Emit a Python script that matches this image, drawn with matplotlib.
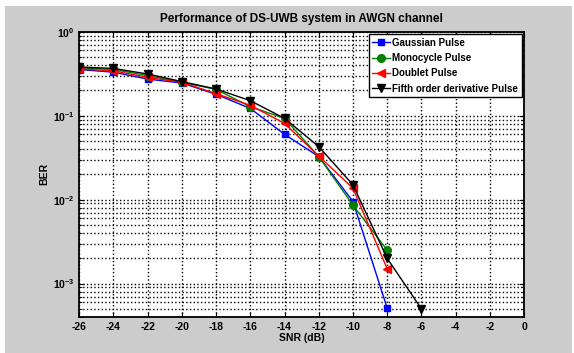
import numpy as np
import matplotlib.pyplot as plt
from matplotlib.patches import Rectangle

# SNR values (dB) and BER for each pulse shape
snr = [-26, -24, -22, -20, -18, -16, -14, -12, -10, -8]
snr_fifth = [-26, -24, -22, -20, -18, -16, -14, -12, -10, -8, -6]

ber_gaussian = [0.355, 0.33, 0.273, 0.245, 0.18, 0.122, 0.060, 0.0326, 0.0095, 0.00051]
ber_monocycle = [0.37, 0.356, 0.30, 0.25, 0.206, 0.128, 0.093, 0.0326, 0.0086, 0.0025]
ber_doublet = [0.36, 0.343, 0.286, 0.25, 0.183, 0.133, 0.081, 0.033, 0.0137, 0.0015]
ber_fifth = [0.38, 0.366, 0.314, 0.255, 0.208, 0.151, 0.093, 0.0428, 0.015, 0.002, 0.0005]

x_ticks = np.arange(-26, 1, 2)

plt.rcParams['font.family'] = ['Liberation Sans', 'DejaVu Sans']
plt.rcParams['font.weight'] = 'bold'

fig = plt.figure(figsize=(5.74, 3.53), dpi=100, facecolor='white')
# grey MATLAB-style figure background
fig.patches.append(Rectangle((5 / 574, 0), 567 / 574, 347 / 353,
                             transform=fig.transFigure, facecolor='#cccccc',
                             edgecolor='none', zorder=-1))

ax = fig.add_axes([0.138, 0.102, 0.775, 0.808])
ax.set_facecolor('white')

ax.semilogy(snr, ber_gaussian, '-s', color='blue', lw=1, ms=5, label='Gaussian Pulse')
ax.semilogy(snr, ber_monocycle, '-o', color='green', lw=1, ms=5.5, label='Monocycle Pulse')
ax.semilogy(snr, ber_doublet, '-<', color='red', lw=1, ms=5.5, label='Doublet Pulse')
ax.semilogy(snr_fifth, ber_fifth, '-v', color='black', lw=1, ms=5.5,
            label='Fifth order derivative Pulse')

ax.set_xlim(-26, 0)
ax.set_ylim(4e-4, 1)
ax.set_xticks(x_ticks)
ax.set_xticklabels([str(v) for v in x_ticks])

ax.grid(True, which='both', linestyle=':', color='black', linewidth=1.0)
ax.tick_params(which='both', direction='in', top=True, right=True, labelsize=7.5)
for lab in ax.get_xticklabels() + ax.get_yticklabels():
    lab.set_fontweight('bold')
for s in ax.spines.values():
    s.set_linewidth(1.3)

ax.set_title('Performance of DS-UWB system in AWGN channel', fontsize=8.5,
             fontweight='bold', pad=7)
ax.set_xlabel('SNR (dB)', fontsize=7.5, fontweight='bold', labelpad=1)
ax.set_ylabel('BER', fontsize=7.5, fontweight='bold', labelpad=2)

leg = ax.legend(loc='upper right', fontsize=7, fancybox=False, framealpha=1,
                edgecolor='black', borderpad=0.35, labelspacing=0.55,
                handlelength=1.9, handletextpad=0.2, borderaxespad=0.25)
leg.get_frame().set_linewidth(1)

fig.savefig('out.png', dpi=100, facecolor=fig.get_facecolor())
